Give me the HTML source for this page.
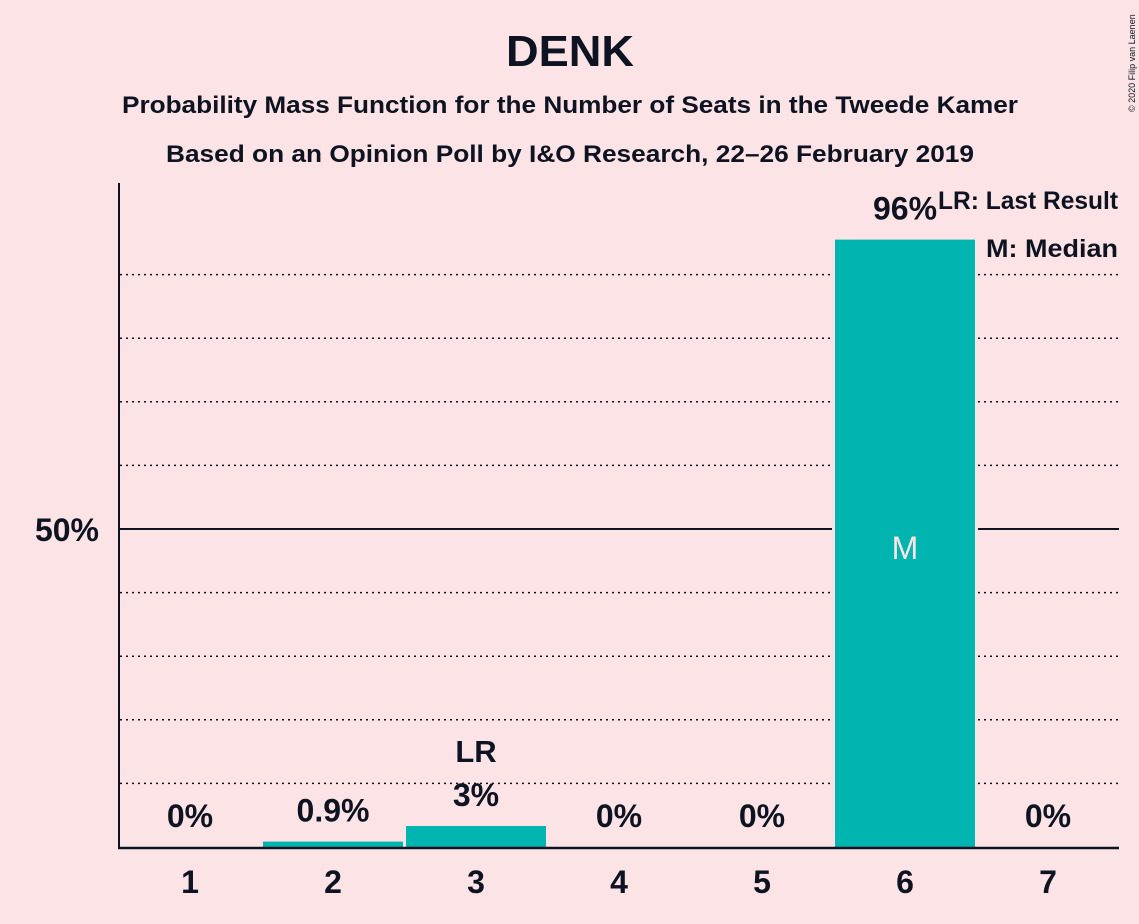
<!DOCTYPE html>
<html><head><meta charset="utf-8"><style>
html,body{margin:0;padding:0;background:#fce4e6;}
svg{display:block;font-family:"Liberation Sans",sans-serif;}
</style></head><body>
<svg id="chart" width="1139" height="924" viewBox="0 0 1139 924" xmlns="http://www.w3.org/2000/svg">
<rect width="1139" height="924" fill="#fce4e6"/>
<text x="570" y="66" text-anchor="middle" font-size="44" font-weight="bold" fill="#0d1321" textLength="128" lengthAdjust="spacingAndGlyphs">DENK</text>
<text x="570" y="113" text-anchor="middle" font-size="24" font-weight="bold" fill="#0d1321" textLength="896" lengthAdjust="spacingAndGlyphs">Probability Mass Function for the Number of Seats in the Tweede Kamer</text>
<text x="570" y="162" text-anchor="middle" font-size="24" font-weight="bold" fill="#0d1321" textLength="808" lengthAdjust="spacingAndGlyphs">Based on an Opinion Poll by I&amp;O Research, 22–26 February 2019</text>
<text transform="translate(1135,112) rotate(-90)" font-size="9" fill="#0d1321">© 2020 Filip van Laenen</text>
<g id="grid"></g>
<g id="bars"></g>
<g id="labels"></g>
<line x1="119" y1="183" x2="119" y2="848" stroke="#0d1321" stroke-width="2"/>
<line x1="118" y1="848" x2="1119" y2="848" stroke="#0d1321" stroke-width="2.5"/>
<text x="99" y="541" text-anchor="end" font-size="32" font-weight="bold" fill="#0d1321">50%</text>
<text x="1118" y="209" text-anchor="end" font-size="25" font-weight="bold" fill="#0d1321" textLength="180" lengthAdjust="spacingAndGlyphs">LR: Last Result</text>
<text x="1118" y="257" text-anchor="end" font-size="25" font-weight="bold" fill="#0d1321" textLength="132" lengthAdjust="spacingAndGlyphs">M: Median</text>
</svg>
<script>
const categories = ["1","2","3","4","5","6","7"];
const values = [0, 0.85, 3.3, 0, 0, 95.5, 0];
const valueLabels = ["0%","0.9%","3%","0%","0%","96%","0%"];
const gridTicks = [10,20,30,40,50,60,70,80,90];
const lastResultIndex = 2;
const medianIndex = 5;

const NS="http://www.w3.org/2000/svg";
const x0=119, step=143, barW=140, yBase=847, pxPer=(847-529)/50;
const xc=i=>x0+71+i*step;
const y=v=>yBase-v*pxPer;
function mk(t,a,p){const e=document.createElementNS(NS,t);for(const k in a)e.setAttribute(k,a[k]);p.appendChild(e);return e;}
const grid=document.getElementById('grid'),bars=document.getElementById('bars'),labels=document.getElementById('labels');
gridTicks.forEach(g=>{
  const l=mk('line',{x1:120,x2:1119,y1:y(g),y2:y(g),stroke:'#0d1321','stroke-width':g===50?2:1.5,'stroke-dasharray':g===50?'none':'2 4'},grid);
  
  
});
categories.forEach((c,i)=>{
  const v=values[i];
  if(v>0){
    const h=mk('rect',{x:xc(i)-barW/2-3,y:y(v)-3,width:barW+6,height:yBase-y(v)+3,fill:'#fce4e6'},bars);
    
    
    const r=mk('rect',{x:xc(i)-barW/2,y:y(v),width:barW,height:yBase-y(v),fill:'#00b5b0'},bars);
    
    
  }
  const t=mk('text',{x:xc(i),y:893,'text-anchor':'middle','font-size':32,'font-weight':'bold',fill:'#0d1321'},labels);
  t.textContent=c;
  
  
  const vy=i===medianIndex? y(v)-20 : Math.min(y(v)-20,828);
  const vl=mk('text',{x:xc(i),y:vy,'text-anchor':'middle','font-size':32,'font-weight':'bold',fill:'#0d1321'},labels);
  vl.textContent=valueLabels[i];
  
  
  if(i===lastResultIndex){
    const lr=mk('text',{x:xc(i),y:vy-44,'text-anchor':'middle','font-size':31,'font-weight':'bold',fill:'#0d1321'},labels);
    lr.textContent='LR';
    
    
  }
  if(i===medianIndex){
    const m=mk('text',{x:xc(i),y:559,'text-anchor':'middle','font-size':32,fill:'#fce4e6'},labels);
    m.textContent='M';
    
    
  }
});
</script>
</body></html>
